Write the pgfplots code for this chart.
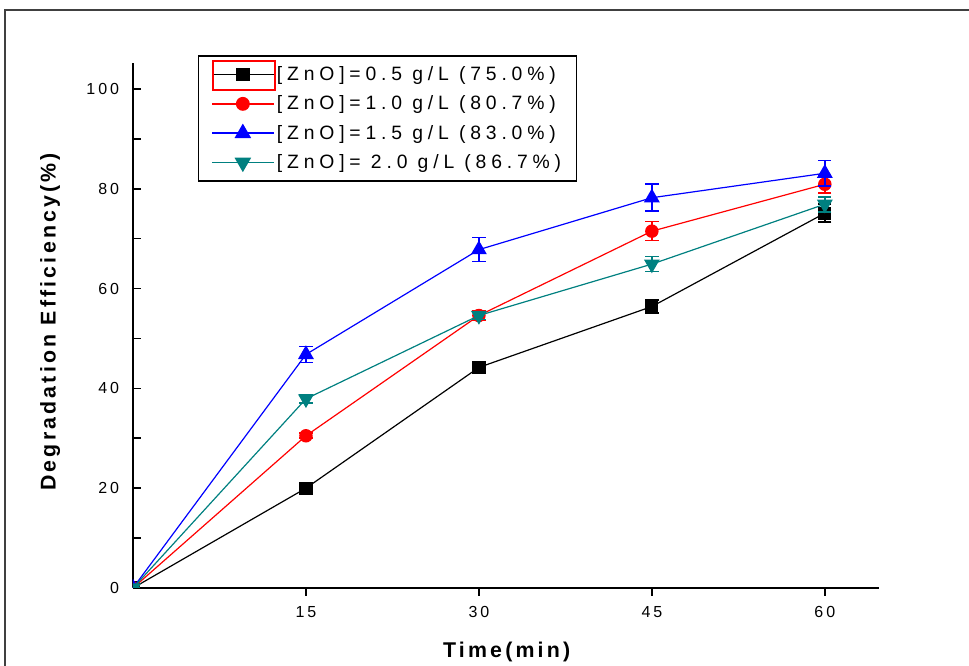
\documentclass[border=0pt]{standalone}
\usepackage{fontspec}
\setmainfont{Liberation Sans}[LetterSpace=15]
\newfontfamily\legfont{Liberation Sans}[LetterSpace=25]
\newfontfamily\tickfont{Liberation Sans}[LetterSpace=18]
\usepackage{pgfplots}
\pgfplotsset{compat=1.18}
\definecolor{dteal}{RGB}{0,128,128}
\definecolor{pblue}{RGB}{0,0,255}

\pgfplotstableread{
x y e
0 0 0
15 20.0 0.5
30 44.2 0.6
45 56.4 1.3
60 75.1 1.8
}\tabA
\pgfplotstableread{
x y e
0 0 0
15 30.5 0.5
30 54.6 1.0
45 71.5 1.9
60 80.9 1.8
}\tabB
\pgfplotstableread{
x y e
0 0 0
15 46.8 1.6
30 67.8 2.4
45 78.2 2.7
60 83.1 2.6
}\tabC
\pgfplotstableread{
x y e
0 0 0
15 37.9 0.8
30 54.6 0.8
45 64.9 1.5
60 76.9 1.5
}\tabD

\begin{document}
\begin{tikzpicture}
\begin{axis}[
  at={(0,0)}, anchor=south west,
  scale only axis, width=559.5pt, height=393.75pt,
  xmin=0, xmax=64.7, ymin=0, ymax=105.2,
  axis x line*=bottom, axis y line*=left,
  axis line style={line width=1.2pt, black},
  xtick={15,30,45,60}, ytick={0,20,40,60,80,100},
  minor y tick num=1,
  xtick align=outside, ytick align=inside,
  major tick length=6pt, minor tick length=6pt,
  every tick/.style={line width=1.2pt, black},
  /pgf/number format/assume math mode=true,
  tick label style={font=\tickfont\fontsize{12}{14}\selectfont},
  yticklabel style={xshift=-7pt},
  xticklabel style={yshift=-4pt},
  xlabel={\textbf{Time(min)}},
  ylabel={\textbf{Degradation Efficiency(\%)}},
  label style={font=\fontsize{16}{19}\selectfont},
  xlabel style={at={(axis description cs:0.503,-0.122)}, anchor=center},
  ylabel style={at={(axis description cs:-0.111,0.51)}, anchor=center},
  clip marker paths=true,
  legend style={at={(rel axis cs:0.0871,1.015)}, anchor=north west,
    draw, line width=1.1pt, font=\legfont\fontsize{14.5}{17}\selectfont,
    row sep=6pt, inner xsep=9.5pt, inner ysep=6pt},
  legend cell align=left,
]
\addplot+[black, line width=0.9pt, mark=square*, mark size=4.5pt,
  mark options={solid, fill=black},
  legend image code/.code={\draw[draw=black, line width=1.2pt, mark repeat=2, mark phase=2] plot coordinates {(0pt,0pt) (23pt,0pt) (46pt,0pt)};},
  error bars/y dir=both, error bars/y explicit,
  error bars/error bar style={line width=1.2pt, black},
  error bars/error mark options={rotate=90, mark size=5pt, line width=1.2pt, black}]
  table[x=x, y=y, y error=e] {\tabA};
\addlegendentry{[ZnO]=0.5 g/L (75.0\%)}
\addplot+[red, line width=0.9pt, mark=*, mark size=4.6pt,
  mark options={solid, fill=red},
  legend image code/.code={\draw[draw=red, line width=1.2pt, mark repeat=2, mark phase=2] plot coordinates {(0pt,0pt) (23pt,0pt) (46pt,0pt)};},
  error bars/y dir=both, error bars/y explicit,
  error bars/error bar style={line width=1.2pt, red},
  error bars/error mark options={rotate=90, mark size=5pt, line width=1.2pt, red}]
  table[x=x, y=y, y error=e] {\tabB};
\addlegendentry{[ZnO]=1.0 g/L (80.7\%)}
\addplot+[pblue, line width=0.9pt, mark=triangle*, mark size=6pt,
  mark options={solid, fill=pblue},
  legend image code/.code={\draw[draw=pblue, line width=1.2pt, mark repeat=2, mark phase=2] plot coordinates {(0pt,0pt) (23pt,0pt) (46pt,0pt)};},
  error bars/y dir=both, error bars/y explicit,
  error bars/error bar style={line width=1.2pt, pblue},
  error bars/error mark options={rotate=90, mark size=5pt, line width=1.2pt, pblue}]
  table[x=x, y=y, y error=e] {\tabC};
\addlegendentry{[ZnO]=1.5 g/L (83.0\%)}
\addplot+[dteal, line width=0.9pt, mark=triangle*, mark size=6pt,
  mark options={solid, fill=dteal, rotate=180},
  legend image code/.code={\draw[draw=dteal, line width=1.2pt, mark repeat=2, mark phase=2] plot coordinates {(0pt,0pt) (23pt,0pt) (46pt,0pt)};},
  error bars/y dir=both, error bars/y explicit,
  error bars/error bar style={line width=1.2pt, dteal},
  error bars/error mark options={rotate=90, mark size=5pt, line width=1.2pt, dteal}]
  table[x=x, y=y, y error=e] {\tabD};
\addlegendentry{[ZnO]= 2.0 g/L (86.7\%)}
\end{axis}
\draw[red, line width=1pt] (60pt,395.25pt) rectangle (106.5pt,373.5pt);
\draw[line width=1.6pt, black!75] (-96pt,-70pt) -- (-96pt,433.5pt) -- (640pt,433.5pt);
\pgfresetboundingbox
\useasboundingbox (-99.75pt,-58.5pt) rectangle (627pt,441pt);
\end{tikzpicture}
\end{document}
